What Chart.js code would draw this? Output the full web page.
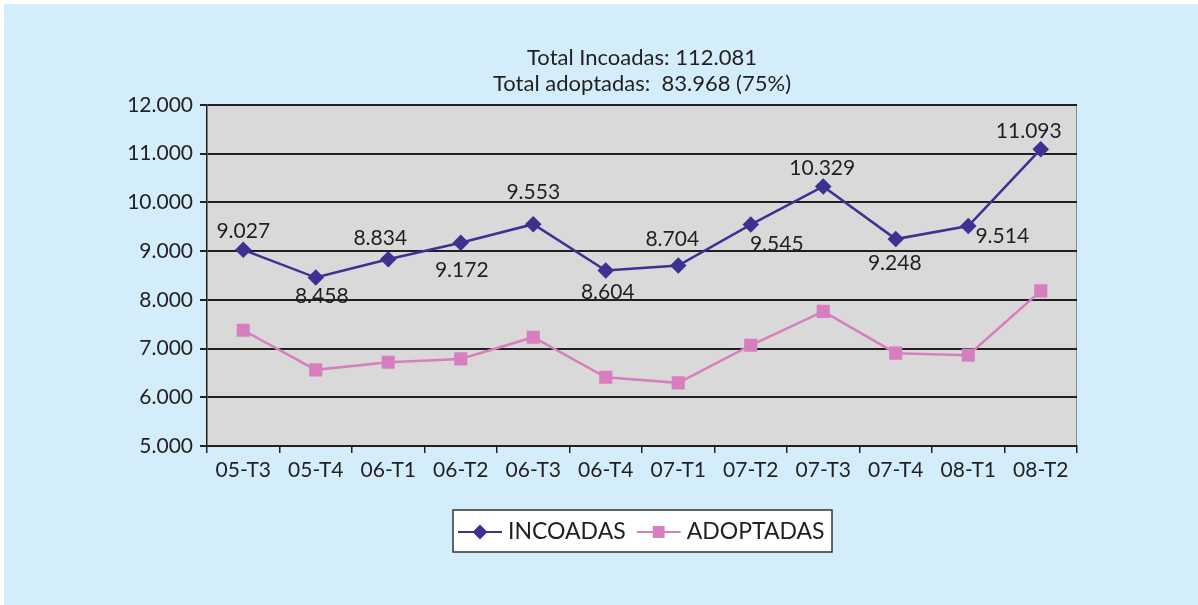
<!DOCTYPE html>
<html>
<head>
<meta charset="utf-8">
<script src="https://cdn.jsdelivr.net/npm/chart.js@4/dist/chart.umd.min.js"></script>
<style>
  html, body { margin: 0; padding: 0; background: #fff; }
  #wrap { position: absolute; left: 0; top: 0; width: 1198px; height: 605px; }
</style>
</head>
<body>
<div id="wrap"><canvas id="grafico" width="1198" height="605"></canvas></div>
<script>
const trimestres = ['05-T3', '05-T4', '06-T1', '06-T2', '06-T3', '06-T4', '07-T1', '07-T2', '07-T3', '07-T4', '08-T1', '08-T2'];
const incoadas = [9027, 8458, 8834, 9172, 9553, 8604, 8704, 9545, 10329, 9248, 9514, 11093];
const adoptadas = [7376, 6563, 6719, 6788, 7233, 6411, 6296, 7068, 7763, 6906, 6865, 8184];
const titulo = ['Total Incoadas: 112.081', 'Total adoptadas:  83.968 (75%)'];

const FUENTE = 'Lato, "Open Sans", sans-serif';
const TEXTO = '#231f20';
const AZUL = '#3d3191';
const ROSA = '#d77fbe';

// 9027 -> "9.027"
const miles = v => String(Math.round(v)).replace(/\B(?=(\d{3})+(?!\d))/g, '.');

// fondo azul + zona gris del grafico + titulo centrado sobre el area
const fondo = {
  id: 'fondo',
  beforeDraw(chart) {
    const { ctx, chartArea: a } = chart;
    ctx.save();
    ctx.fillStyle = '#ffffff';
    ctx.fillRect(0, 0, chart.width, chart.height);
    ctx.fillStyle = '#d3eefa';
    ctx.fillRect(4, 4, chart.width - 4, chart.height - 4);
    ctx.fillStyle = '#d9d9d9';
    ctx.fillRect(a.left, a.top, a.right - a.left, a.bottom - a.top);
    ctx.strokeStyle = '#8a8a8a';
    ctx.lineWidth = 1;
    ctx.beginPath();
    ctx.moveTo(a.right - 0.5, a.top);
    ctx.lineTo(a.right - 0.5, a.bottom);
    ctx.stroke();

    ctx.font = '22px ' + FUENTE;
    ctx.fillStyle = TEXTO;
    ctx.textAlign = 'center';
    ctx.textBaseline = 'middle';
    const cx = (a.left + a.right) / 2;
    titulo.forEach((t, i) => ctx.fillText(t, cx, 58 + i * 26));
    ctx.restore();
  }
};

// etiquetas de valor de INCOADAS (desplazamiento a mano como en el original)
const desplaz = [[0, -19], [6, 19], [-8, -21], [1, 27], [0, -32], [2, 22], [-6, -26], [26, 20], [-1, -18], [-1, 24], [34, 10], [-12, -18]];
const etiquetas = {
  id: 'etiquetas',
  afterDatasetsDraw(chart) {
    const { ctx } = chart;
    const meta = chart.getDatasetMeta(0);
    ctx.save();
    ctx.font = '21px ' + FUENTE;
    ctx.fillStyle = TEXTO;
    ctx.textAlign = 'center';
    ctx.textBaseline = 'middle';
    meta.data.forEach((p, i) => {
      const d = desplaz[i] || [0, -18];
      ctx.fillText(miles(incoadas[i]), p.x + d[0], p.y + d[1]);
    });
    ctx.restore();
  }
};

// leyenda con caja, linea y marcador
const leyenda = {
  id: 'leyenda',
  afterDraw(chart) {
    const { ctx } = chart;
    const x0 = 453, y0 = 510, w = 379, h = 42, cy = y0 + h / 2 + 1;
    ctx.save();
    ctx.fillStyle = '#ffffff';
    ctx.fillRect(x0, y0, w, h);
    ctx.strokeStyle = '#333333';
    ctx.lineWidth = 1.5;
    ctx.strokeRect(x0, y0, w, h);
    ctx.font = '23px ' + FUENTE;
    ctx.textBaseline = 'middle';
    let x = x0 + 5;
    chart.data.datasets.forEach(ds => {
      ctx.strokeStyle = ds.borderColor;
      ctx.lineWidth = 2;
      ctx.beginPath();
      ctx.moveTo(x, cy);
      ctx.lineTo(x + 44, cy);
      ctx.stroke();
      ctx.fillStyle = ds.pointBackgroundColor;
      ctx.strokeStyle = ds.pointBackgroundColor;
      Chart.helpers.drawPoint(ctx, { pointStyle: ds.pointStyle, radius: ds.pointRadius - 0.5, borderWidth: 1 }, x + 22, cy);
      ctx.fillStyle = TEXTO;
      ctx.fillText(ds.label, x + 50, cy);
      x += 50 + ctx.measureText(ds.label).width + 11;
    });
    ctx.restore();
  }
};

new Chart(document.getElementById('grafico'), {
  type: 'line',
  data: {
    labels: trimestres,
    datasets: [
      {
        label: 'INCOADAS',
        data: incoadas,
        borderColor: AZUL,
        backgroundColor: AZUL,
        pointBackgroundColor: AZUL,
        pointBorderColor: AZUL,
        pointStyle: 'rectRot',
        pointRadius: 6.5,
        borderWidth: 2.5,
        tension: 0
      },
      {
        label: 'ADOPTADAS',
        data: adoptadas,
        borderColor: ROSA,
        backgroundColor: ROSA,
        pointBackgroundColor: ROSA,
        pointBorderColor: ROSA,
        pointStyle: 'rect',
        pointRadius: 7.5,
        borderWidth: 2.5,
        tension: 0
      }
    ]
  },
  options: {
    responsive: false,
    animation: false,
    layout: { padding: { left: 0, right: 121, top: 105, bottom: 119 } },
    plugins: {
      legend: { display: false },
      tooltip: { enabled: false },
      title: { display: false }
    },
    scales: {
      x: {
        offset: true,
        afterFit: s => { s.height = 40; },
        grid: { offset: true, drawOnChartArea: false, drawTicks: true, tickLength: 7, color: TEXTO, lineWidth: 1.5 },
        border: { color: TEXTO, width: 2 },
        ticks: { color: TEXTO, padding: 5, font: { family: FUENTE, size: 21 }, maxRotation: 0 }
      },
      y: {
        min: 5000,
        max: 12000,
        afterFit: s => { s.width = 207; },
        grid: { color: TEXTO, lineWidth: 2, tickLength: 7 },
        border: { color: TEXTO, width: 1.5 },
        ticks: { stepSize: 1000, color: TEXTO, padding: 7, font: { family: FUENTE, size: 21 }, callback: v => miles(v) }
      }
    }
  },
  plugins: [fondo, etiquetas, leyenda]
});
</script>
</body>
</html>
